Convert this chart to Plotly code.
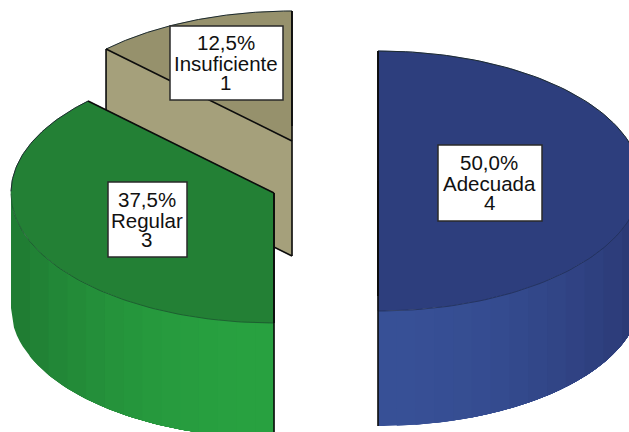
import numpy as np
import plotly.graph_objects as go

# Data
categories = ["Adecuada", "Regular", "Insuficiente"]
counts = [4, 3, 1]

# Styling / layout of the exploded 3D pie (in pixel-like axis units)
W, H = 629, 432
RX, RY, DEPTH = 263, 130, 115
centers = [(378, 181), (274, 193), (292, 141)]
top_colors = ["#2d3e7d", "#238035", "#96916c"]
face_colors = ["#2d3e7d", "#238035", "#a5a07b"]
wall_near = [(55, 80, 150), (40, 161, 64), (165, 160, 123)]   # colour at the front of the pie
wall_far = [(42, 56, 116), (31, 122, 50), (165, 160, 123)]    # colour at the side of the pie
boxes = [(438, 145, 542, 221), (108, 182, 187, 257), (170, 26, 283, 100)]
FONT = "Liberation Sans"
BANDS = 14

total = sum(counts)
shares = [c / total for c in counts]
starts = np.cumsum([0] + shares[:-1]) * 360
ends = np.cumsum(shares) * 360


def rim(c, deg):
    t = np.radians(deg)
    return c[0] + RX * np.sin(t), c[1] - RY * np.cos(t)


fig = go.Figure()


def poly(xs, ys, color, width=0.6):
    fig.add_trace(go.Scatter(
        x=list(xs), y=list(ys), mode="lines", fill="toself", fillcolor=color,
        line=dict(color=color, width=width), hoverinfo="skip", showlegend=False))


def path(xs, ys, color, width):
    fig.add_trace(go.Scatter(
        x=list(xs), y=list(ys), mode="lines",
        line=dict(color=color, width=width), hoverinfo="skip", showlegend=False))


for i in [2, 1, 0]:
    c, a0, a1 = centers[i], starts[i], ends[i]

    # cut face at the start angle
    px, py = rim(c, a0)
    poly([px, c[0], c[0], px], [py, c[1], c[1] + DEPTH, py + DEPTH], face_colors[i])

    # curved outer wall, front half only: shaded bands painted over one another
    lo, hi = max(a0, 90), min(a1, 270)
    if hi > lo:
        x_lo, x_hi = sorted((rim(c, lo)[0], rim(c, hi)[0]))
        edges = np.linspace(x_lo, x_hi, BANDS + 1)
        for b in range(BANDS):
            sub = np.linspace(edges[b], x_hi, 90)
            off = np.clip((sub - c[0]) / RX, -1, 1)
            top_y = c[1] + RY * np.sqrt(1 - off ** 2)
            mid = abs((edges[b] + edges[b + 1]) / 2 - c[0]) / RX
            f = mid ** 2
            rgb = [round(n + (m - n) * f) for n, m in zip(wall_near[i], wall_far[i])]
            poly(np.r_[sub, sub[::-1]], np.r_[top_y, top_y[::-1] + DEPTH],
                 f"rgb({rgb[0]},{rgb[1]},{rgb[2]})", width=0)

    # top surface
    th = np.linspace(a0, a1, 120)
    ax, ay = rim(c, th)
    poly(np.r_[c[0], ax, c[0]], np.r_[c[1], ay, c[1]], top_colors[i])
    # rim line: firm along the back of the pie, faint where it meets the wall
    back = np.cos(np.radians(th)) >= 0
    front = np.cos(np.radians(th)) <= 0
    if back.any():
        path(ax[back], ay[back], "#1c2a30", 1)
    if front.any():
        path(ax[front], ay[front], "rgba(20,30,40,0.45)", 0.8)

    # straight edges
    ex, ey = [], []
    p0, p1 = rim(c, a0), rim(c, a1)
    ex += [c[0], p0[0], None, c[0], p1[0], None, c[0], c[0], None]
    ey += [c[1], p0[1], None, c[1], p1[1], None, c[1], c[1] + DEPTH, None]
    ex += [p0[0], p0[0], c[0], None]
    ey += [p0[1], p0[1] + DEPTH, c[1] + DEPTH, None]
    if not 270 < a1 < 360:
        ex += [p1[0], p1[0], None]
        ey += [p1[1], p1[1] + DEPTH, None]
    path(ex, ey, "#0c0c0c", 1.6)

# label boxes
shapes = [dict(type="rect", x0=b[0], y0=b[1], x1=b[2], y1=b[3], xref="x", yref="y",
               fillcolor="white", line=dict(color="#2a2a2a", width=1.5), layer="above")
          for b in boxes]

# label text: one annotation per line for the tight line spacing of the reference
annotations = []
for name, n, s, b in zip(categories, counts, shares, boxes):
    lines = [f"{s * 100:.1f}%".replace(".", ","), name, str(n)]
    cx, cy = (b[0] + b[2]) / 2 - 1, (b[1] + b[3]) / 2
    for line, dy in zip(lines, (-20.5, 0.5, 19.5)):
        annotations.append(dict(x=cx, y=cy + dy, text=line, showarrow=False,
                                xref="x", yref="y", xanchor="center", yanchor="middle",
                                font=dict(family=FONT, size=20.5, color="#111111")))

fig.update_layout(
    width=W, height=H, margin=dict(l=0, r=0, t=0, b=0),
    paper_bgcolor="white", plot_bgcolor="white", showlegend=False,
    xaxis=dict(range=[0, W], visible=False, fixedrange=True),
    yaxis=dict(range=[H, 0], visible=False, fixedrange=True),
    shapes=shapes, annotations=annotations,
)
fig.write_html("out.html", config=dict(displayModeBar=False),
               post_script="document.body.style.margin='0';document.body.style.overflow='hidden';")
